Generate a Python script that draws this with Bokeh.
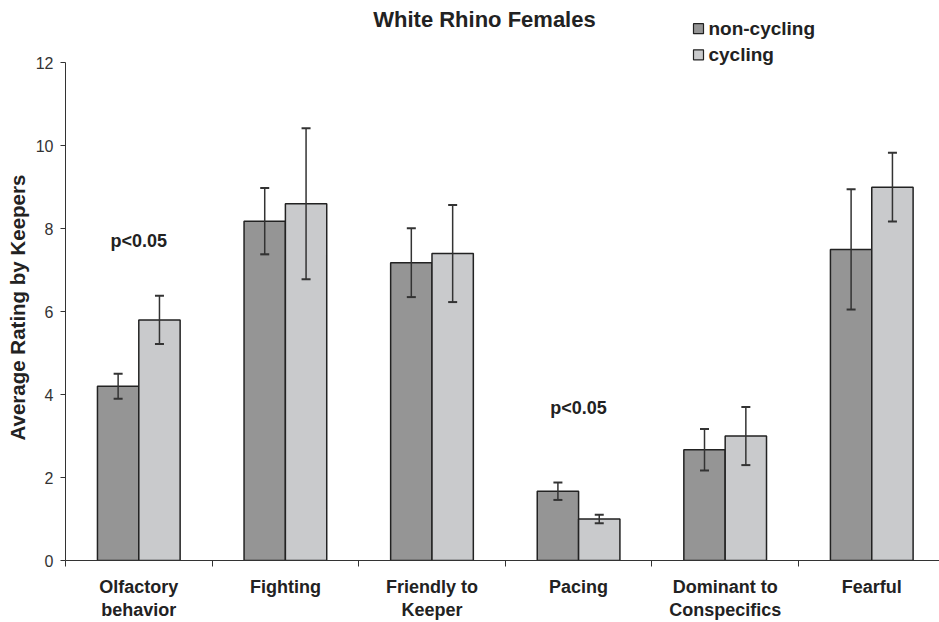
from bokeh.plotting import figure
from bokeh.models import (ColumnDataSource, Range1d, FixedTicker, Whisker, TeeHead, Title)
from bokeh.core.properties import value
from bokeh.embed import file_html
from bokeh.resources import INLINE

# Behaviour ratings of white rhino females by keepers
categories = ["Olfactory\nbehavior", "Fighting", "Friendly to\nKeeper",
              "Pacing", "Dominant to\nConspecifics", "Fearful"]
non_cycling = [4.2, 8.18, 7.18, 1.67, 2.67, 7.5]
non_cycling_err = [0.3, 0.8, 0.83, 0.21, 0.5, 1.45]
cycling = [5.8, 8.6, 7.4, 1.0, 3.0, 9.0]
cycling_err = [0.58, 1.82, 1.17, 0.1, 0.7, 0.83]
y_ticks = [0, 2, 4, 6, 8, 10, 12]
significant = [0, 3]          # categories marked p<0.05
sig_label = "p<0.05"
series_names = ["non-cycling", "cycling"]

DARK = "#959595"
LIGHT = "#c9cacc"
EDGE = "#222222"
FONT = "Liberation Sans"

n = len(categories)
centers = [i + 0.5 for i in range(n)]
bar_w = 0.282

p = figure(width=939, height=622, output_backend="svg", toolbar_location=None,
           x_range=Range1d(0, 5.962), y_range=Range1d(0, 13.5),
           min_border_left=65, min_border_right=0, min_border_top=0,
           min_border_bottom=62)
p.outline_line_color = None
p.xgrid.visible = False
p.ygrid.visible = False
p.background_fill_color = "white"

src = ColumnDataSource(dict(
    xd=[c - bar_w / 2 for c in centers],
    xl=[c + bar_w / 2 for c in centers],
    nc=non_cycling, cy=cycling,
    nc_lo=[v - e for v, e in zip(non_cycling, non_cycling_err)],
    nc_hi=[v + e for v, e in zip(non_cycling, non_cycling_err)],
    cy_lo=[v - e for v, e in zip(cycling, cycling_err)],
    cy_hi=[v + e for v, e in zip(cycling, cycling_err)],
))

p.vbar(x="xd", top="nc", bottom=0, width=bar_w, source=src,
       fill_color=DARK, line_color=EDGE, line_width=1.5)
p.vbar(x="xl", top="cy", bottom=0, width=bar_w, source=src,
       fill_color=LIGHT, line_color=EDGE, line_width=1.5)

for base, lo, hi in (("xd", "nc_lo", "nc_hi"), ("xl", "cy_lo", "cy_hi")):
    w = Whisker(source=src, base=base, lower=lo, upper=hi,
                line_color="#333333", line_width=1.5, level="overlay",
                upper_head=TeeHead(size=9, line_color="#333333", line_width=2),
                lower_head=TeeHead(size=9, line_color="#333333", line_width=2))
    p.add_layout(w)

# significance labels
p.text(x=[centers[i] for i in significant], y=[7.71, 3.68],
       text=[sig_label] * len(significant), text_align="center",
       text_baseline="middle", text_font=value(FONT), text_font_style="bold",
       text_font_size="18px", text_color="#222222")

# chart title
p.text(x=[2.858], y=[13.04], text=["White Rhino Females"], text_align="center",
       text_baseline="middle", text_font=value(FONT), text_font_style="bold",
       text_font_size="22px", text_color="#222222")

# legend
p.scatter(x=[4.318, 4.318], y=[12.82, 12.19], marker="square", size=10,
          fill_color=[DARK, LIGHT], line_color=EDGE, line_width=1.2)
p.text(x=[4.386, 4.386], y=[12.82, 12.19], text=series_names,
       text_align="left", text_baseline="middle", text_font=value(FONT),
       text_font_style="bold", text_font_size="19px", text_color="#222222")

# y axis
ya = p.yaxis[0]
ya.bounds = (0, 12)
ya.ticker = FixedTicker(ticks=y_ticks)
ya.major_tick_out = 5
ya.major_tick_in = 0
ya.minor_tick_line_color = None
ya.axis_line_color = "#333333"
ya.major_tick_line_color = "#333333"
ya.major_label_text_font = FONT
ya.major_label_text_font_size = "16px"
ya.major_label_text_color = "#333333"
ya.major_label_standoff = 7

# y axis title, placed along the 0-12 span of the axis
p.add_layout(Title(text="Average Rating by Keepers", align="left", offset=120,
                   text_font=FONT, text_font_style="bold", text_font_size="20.5px",
                   text_color="#222222", standoff=7), "left")

# x axis: labels at category centres, ticks at category boundaries
xa = p.xaxis[0]
xa.ticker = FixedTicker(ticks=centers, minor_ticks=list(range(n + 1)))
xa.major_label_overrides = {c: lab for c, lab in zip(centers, categories)}
xa.major_tick_out = 0
xa.major_tick_in = 0
xa.minor_tick_out = 6
xa.minor_tick_in = 0
xa.minor_tick_line_color = "#333333"
xa.axis_line_color = "#333333"
xa.major_label_text_font = FONT
xa.major_label_text_font_style = "bold"
xa.major_label_text_font_size = "18px"
xa.major_label_text_line_height = 1.15
xa.major_label_text_color = "#222222"
xa.major_label_standoff = 10

open("out.html", "w").write(file_html(p, INLINE))
